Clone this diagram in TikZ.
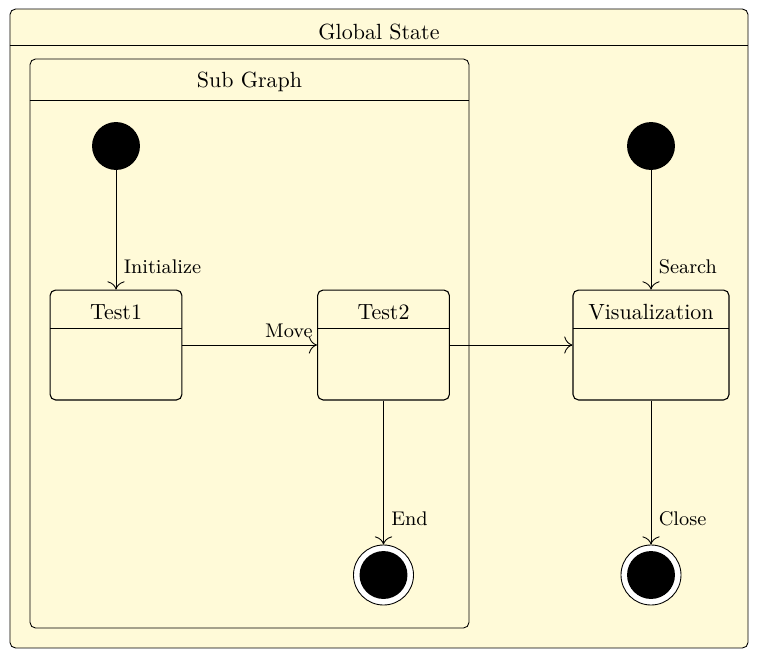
\documentclass[tikz,border=0pt]{standalone}
\usepackage{amsmath}
\usetikzlibrary{arrows.meta,positioning}
\definecolor{stateyellow}{RGB}{255,250,216}

\tikzset{
  container/.style={draw, rounded corners=2.5pt, fill=stateyellow, inner sep=0},
  statebox/.style={draw, line width=0.5pt, rounded corners=2.5pt, fill=stateyellow,
    minimum width=60pt, minimum height=50pt, inner sep=0,
    path picture={\draw[line width=0.45pt] ([yshift=-17.3pt]path picture bounding box.north west) -- ([yshift=-17.3pt]path picture bounding box.north east);}},
  initstate/.style={circle, fill=black, minimum size=21.8pt, inner sep=0},
  finalstate/.style={circle, draw, fill=white, minimum size=27.3pt, inner sep=0,
    path picture={\fill[black] (path picture bounding box.center) circle (10.9pt);}},
  trans/.style={-{To[scale=1.5]}},
}

\begin{document}
\begin{tikzpicture}[x=0.455pt, y=-0.455pt]
\useasboundingbox (0,0) rectangle (760,657);
% containers
\node[container, minimum width=335.8pt, minimum height=290.7pt] (global) at (379,328.5) {};
\draw ([yshift=-16.8pt]global.north west) -- ([yshift=-16.8pt]global.north east);
\node (globaltitle) at ([yshift=-10.5pt]global.north) {Global State};
\node[container, minimum width=199.7pt, minimum height=258.9pt] (sub) at (249.5,343.5) {};
\draw ([yshift=-19.1pt]sub.north west) -- ([yshift=-19.1pt]sub.north east);
\node (subtitle) at ([yshift=-10.5pt]sub.north) {Sub Graph};
% states
\node[initstate] (init1) at (116,146) {};
\node[statebox, label={[anchor=center, yshift=-10.5pt]north:Test1}] (test1) at (116,345) {};
\node[statebox, label={[anchor=center, yshift=-10.5pt]north:Test2}] (test2) at (383.5,345) {};
\node[finalstate] (end1) at (383.5,575) {};
\node[initstate] (init2) at (651,146) {};
\node[statebox, minimum width=71pt, label={[anchor=center, yshift=-10.5pt]north:Visualization}] (vis) at (651,345) {};
\node[finalstate] (end2) at (651,575) {};
% transitions
\draw[trans] (init1) -- (test1) node[pos=0.81, right]{\small Initialize};
\draw[trans] (test1) -- (test2) node[pos=1, above left, xshift=1.5pt]{\small Move};
\draw[trans] (test2) -- (vis);
\draw[trans] (test2) -- (end1) node[pos=0.82, right]{\small End};
\draw[trans] (init2) -- (vis) node[pos=0.81, right]{\small Search};
\draw[trans] (vis) -- (end2) node[pos=0.82, right]{\small Close};
\end{tikzpicture}
\end{document}
